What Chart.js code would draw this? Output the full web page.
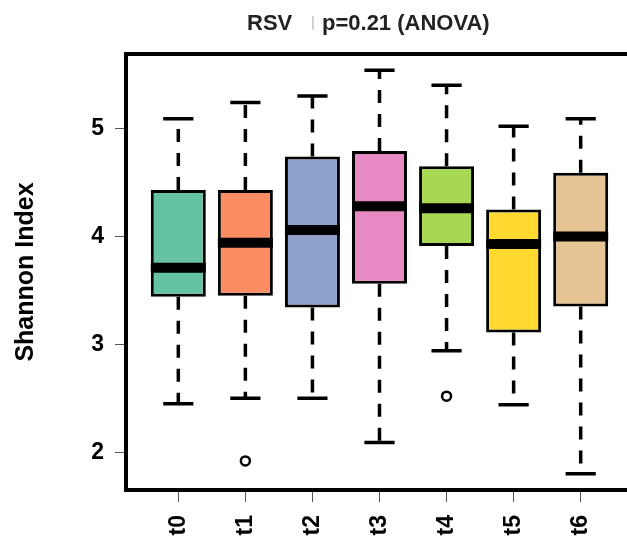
<!DOCTYPE html>
<html>
<head>
<meta charset="utf-8">
<script src="https://cdn.jsdelivr.net/npm/chart.js@4.4.1/dist/chart.umd.min.js"></script>
<style>
  html, body { margin: 0; padding: 0; background: #fff; overflow: hidden; }
  #wrap { width: 640px; height: 538px; }
</style>
</head>
<body>
<div id="wrap"><canvas id="shannonChart"></canvas></div>
<script>
// Shannon diversity per time point (box plot summary values)
var categories = ['t0', 't1', 't2', 't3', 't4', 't5', 't6'];
var lowerWhisker = [2.45, 2.50, 2.50, 2.09, 2.94, 2.44, 1.80];
var q1 = [3.44, 3.45, 3.34, 3.56, 3.91, 3.11, 3.35];
var median = [3.71, 3.94, 4.06, 4.28, 4.26, 3.93, 4.00];
var q3 = [4.43, 4.43, 4.74, 4.79, 4.65, 4.25, 4.59];
var upperWhisker = [5.09, 5.24, 5.30, 5.54, 5.40, 5.02, 5.09];
var outlierGroup = [1, 4];
var outlierValue = [1.92, 2.52];
var yTicks = [2, 3, 4, 5];
var boxColors = ['#66C2A5', '#FC8D62', '#8DA0CB', '#E78AC3', '#A6D854', '#FFD92F', '#E5C494'];

Chart.defaults.font.family = "'Liberation Sans', Arial, Helvetica, sans-serif";
Chart.defaults.color = '#000';

// axis limits padded by 4% like base R
var allValues = lowerWhisker.concat(upperWhisker, outlierValue);
var yLo = Math.min.apply(null, allValues);
var yHi = Math.max.apply(null, allValues);
var yPad = (yHi - yLo) * 0.04;
var xPad = categories.length * 0.04;

// whiskers behind the boxes, median bars on top
var boxPlotParts = {
	id: 'boxPlotParts',
	beforeDatasetsDraw: function (chart) {
		var ctx = chart.ctx, x = chart.scales.x, y = chart.scales.y;
		var half = (x.getPixelForValue(1) - x.getPixelForValue(0)) * 0.225;
		ctx.save();
		ctx.strokeStyle = '#000';
		ctx.lineWidth = 3.5;
		categories.forEach(function (c, i) {
			var cx = x.getPixelForValue(i);
			var top = y.getPixelForValue(upperWhisker[i]);
			var bottom = y.getPixelForValue(lowerWhisker[i]);
			ctx.setLineDash([13, 11]);
			ctx.beginPath();
			ctx.moveTo(cx, y.getPixelForValue(q3[i]));
			ctx.lineTo(cx, top);
			ctx.moveTo(cx, y.getPixelForValue(q1[i]));
			ctx.lineTo(cx, bottom);
			ctx.stroke();
			ctx.setLineDash([]);
			ctx.beginPath();
			ctx.moveTo(cx - half, top);
			ctx.lineTo(cx + half, top);
			ctx.moveTo(cx - half, bottom);
			ctx.lineTo(cx + half, bottom);
			ctx.stroke();
		});
		ctx.restore();
	},
	afterDatasetsDraw: function (chart) {
		var ctx = chart.ctx, y = chart.scales.y;
		var bars = chart.getDatasetMeta(0).data;
		ctx.save();
		ctx.strokeStyle = '#000';
		ctx.lineWidth = 10;
		bars.forEach(function (bar, i) {
			var my = y.getPixelForValue(median[i]);
			ctx.beginPath();
			ctx.moveTo(bar.x - bar.width / 2, my);
			ctx.lineTo(bar.x + bar.width / 2, my);
			ctx.stroke();
		});
		ctx.restore();
	},
	afterDraw: function (chart) {
		var ctx = chart.ctx, a = chart.chartArea;
		ctx.save();
		// plot frame
		ctx.strokeStyle = '#000';
		ctx.lineWidth = 4;
		ctx.strokeRect(a.left, a.top, a.right - a.left, a.bottom - a.top);
		// title
		ctx.textBaseline = 'alphabetic';
		ctx.textAlign = 'left';
		ctx.fillStyle = '#222';
		ctx.font = "bold 22px 'Liberation Sans', Arial, sans-serif";
		ctx.fillText('RSV', 247, 30);
		ctx.fillText('p=0.21 (ANOVA)', 322, 30);
		ctx.fillStyle = '#bbb';
		ctx.font = "15px 'Liberation Sans', Arial, sans-serif";
		ctx.fillText('|', 311, 27);
		ctx.restore();
	}
};

var shannonChart = new Chart(document.getElementById('shannonChart'), {
	type: 'bar',
	data: {
		datasets: [
			{
				label: 'IQR',
				data: categories.map(function (c, i) { return { x: i, y: [q1[i], q3[i]] }; }),
				backgroundColor: boxColors,
				borderColor: '#000',
				borderWidth: 3,
				borderSkipped: false,
				barPercentage: 0.82,
				categoryPercentage: 1,
			},
			{
				type: 'scatter',
				label: 'Outliers',
				data: outlierGroup.map(function (g, i) { return { x: g, y: outlierValue[i] }; }),
				pointStyle: 'circle',
				radius: 4.5,
				borderWidth: 2.5,
				borderColor: '#000',
				backgroundColor: 'rgba(0,0,0,0)',
			},
		],
	},
	options: {
		responsive: true,
		maintainAspectRatio: false,
		animation: false,
		layout: {
			padding: { top: 54, right: 7, left: 0, bottom: 0 },
		},
		plugins: {
			legend: { display: false },
			tooltip: { enabled: false },
		},
		scales: {
			x: {
				type: 'linear',
				offset: false,
				min: -xPad - 0.5,
				max: categories.length - 0.5 + xPad,
				afterBuildTicks: function (scale) {
					scale.ticks = categories.map(function (c, i) { return { value: i }; });
				},
				afterFit: function (scale) { scale.height = 48; },
				border: { display: false },
				grid: { offset: false, drawOnChartArea: false, tickLength: 12, tickColor: '#555', lineWidth: 1 },
				ticks: {
					autoSkip: false,
					minRotation: 90,
					maxRotation: 90,
					padding: 13,
					font: { size: 23, weight: 'bold' },
					callback: function (v) { return categories[v]; },
				},
			},
			y: {
				min: yLo - yPad,
				max: yHi + yPad,
				afterBuildTicks: function (scale) {
					scale.ticks = yTicks.map(function (v) { return { value: v }; });
				},
				afterFit: function (scale) { scale.width = 126; },
				border: { display: false },
				grid: { drawOnChartArea: false, tickLength: 11, tickColor: '#555', lineWidth: 1 },
				ticks: {
					padding: 11,
					font: { size: 23, weight: 'bold' },
				},
				title: {
					display: true,
					text: 'Shannon Index',
					font: { size: 25, weight: 'bold' },
					padding: { top: 11 },
				},
			},
		},
	},
	plugins: [boxPlotParts],
});
</script>
</body>
</html>
